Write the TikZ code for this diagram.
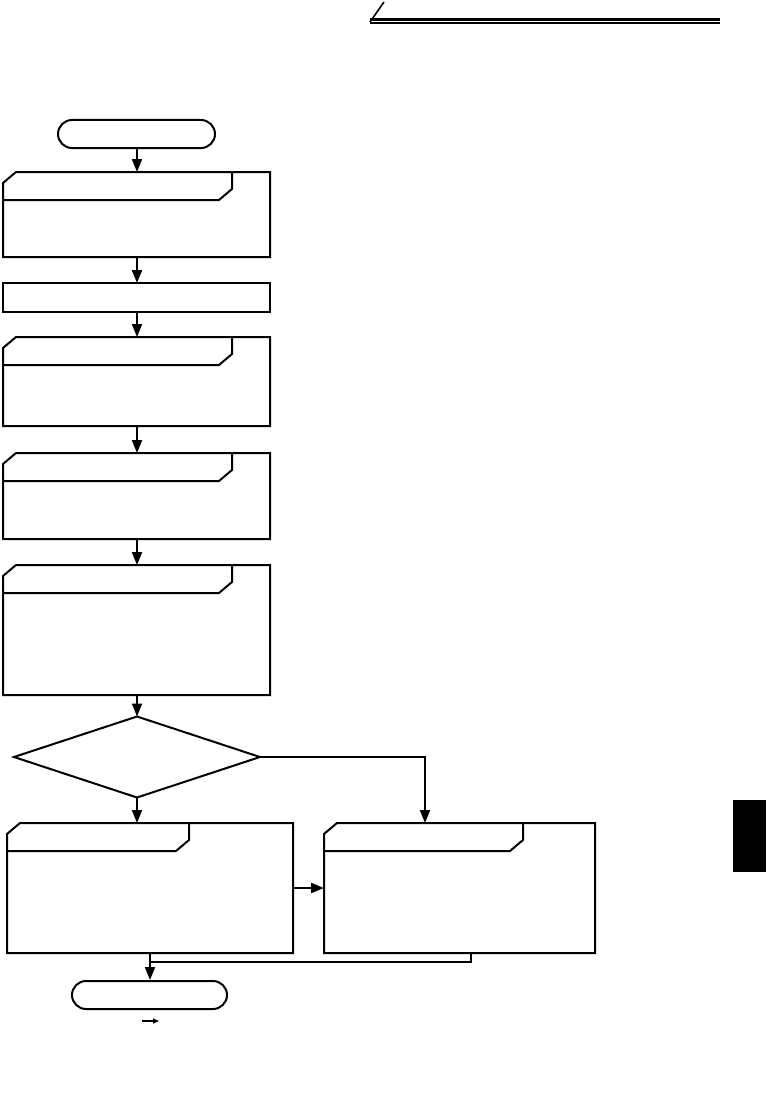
\documentclass[tikz,border=0pt]{standalone}
\usetikzlibrary{arrows.meta,shapes.geometric}
\tikzset{
  boxline/.style={line width=2pt, line join=miter},
  flow/.style={line width=2pt, -{Triangle[length=13pt,width=10pt]}},
  plainline/.style={line width=2pt},
  term/.style={draw, line width=2pt, rounded corners=14pt, inner sep=0pt, minimum height=28pt},
  anchorbox/.style={inner sep=0pt, outer sep=0pt},
}
% name, x1, y1, x2, y2, tab right x
\newcommand\tabbox[6]{%
  \node[anchorbox, minimum width={(#4-#2)*1pt}, minimum height={(#5-#3)*1pt}] (#1) at ({(#2+#4)/2},{(#3+#5)/2}) {};
  \draw[boxline] ({#2},{#3+11}) -- ({#2+13},{#3}) -- ({#4},{#3}) -- ({#4},{#5}) -- ({#2},{#5}) -- cycle;
  \draw[boxline] ({#2},{#3+28}) -- ({#6-13},{#3+28}) -- ({#6},{#3+17}) -- ({#6},{#3});
}
\begin{document}
\begin{tikzpicture}[x=1pt,y=-1pt]
\useasboundingbox (0,0) rectangle (766,1097);
% header rule
\draw[line width=2.6pt] (370,19.3) -- (720,19.3);
\draw[line width=1.6pt] (370,22.8) -- (720,22.8);
\draw[line width=1.6pt] (370,22) -- (384,2);
% side tab
\fill[black] (733,800) rectangle (766,872);
% terminals
\node[term, minimum width=157pt] (start) at (136.5,134) {};
\node[term, minimum width=155pt] (stop) at (149.5,995) {};
% boxes
\tabbox{b1}{3}{172}{270}{257}{232}
\node[draw, boxline, anchorbox, minimum width=267pt, minimum height=29pt] (b2) at (136.5,297.5) {};
\tabbox{b3}{3}{337}{270}{426}{232}
\tabbox{b4}{3}{453}{270}{539}{232}
\tabbox{b5}{3}{565}{270}{695}{232}
\node[draw, boxline, diamond, anchorbox, minimum width=246pt, minimum height=81pt] (dec) at (137,757) {};
\tabbox{bl}{7}{823}{293}{953}{189}
\tabbox{br}{324}{823}{595}{953}{523}
% connectors
\draw[flow] (start.south -| 137,0) -- (b1.north -| 137,0);
\draw[flow] (b1.south -| 137,0) -- (b2.north -| 137,0);
\draw[flow] (b2.south -| 137,0) -- (b3.north -| 137,0);
\draw[flow] (b3.south -| 137,0) -- (b4.north -| 137,0);
\draw[flow] (b4.south -| 137,0) -- (b5.north -| 137,0);
\draw[flow] (b5.south -| 137,0) -- (dec.north);
\draw[flow] (dec.south) -- (bl.north -| dec.south);
\draw[flow] (dec.east) -| (br.north -| 425,0);
\draw[flow] (bl.east |- 0,888) -- (br.west |- 0,888);
\draw[plainline] (br.south -| 471,0) |- (150,962);
\draw[flow] (bl.south -| 150,0) -- (stop.north -| 150,0);
% small arrow under the end terminal
\coordinate (sa) at (142,1021);
\coordinate (sb) at (159,1021);
\draw[line width=1.2pt, -{Triangle[length=6pt,width=5pt]}] (sa) -- (sb);
\end{tikzpicture}
\end{document}
